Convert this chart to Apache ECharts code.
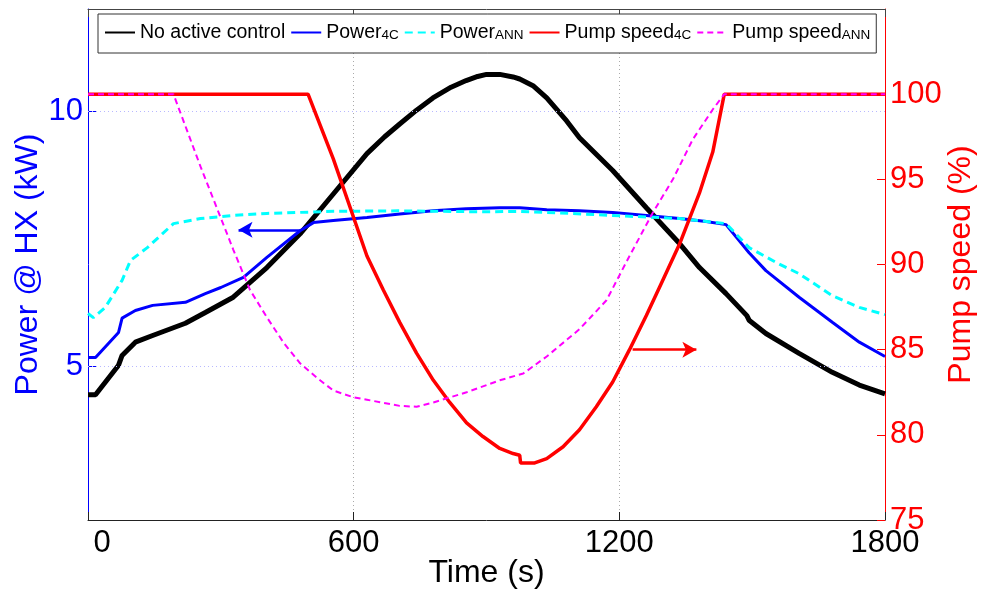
<!DOCTYPE html>
<html>
<head>
<meta charset="utf-8">
<script src="https://cdn.jsdelivr.net/npm/echarts@6/dist/echarts.min.js"></script>
<style>
  html, body { margin: 0; padding: 0; background: #fff; }
  #chart { width: 982px; height: 592px; }
</style>
</head>
<body>
<div id="chart"></div>
<script>
// time (s) and power (kW)
const timeNoCtrl = [0, 17, 69, 77, 107, 146, 220, 265, 328, 404, 479, 554, 630, 670, 704, 742, 779, 820, 854, 880, 900, 930, 960, 975, 978, 1005, 1036, 1081, 1110, 1185, 1261, 1336, 1381, 1441, 1488, 1493, 1531, 1606, 1681, 1742, 1800];
const powerNoCtrl = [4.45, 4.45, 5.03, 5.22, 5.48, 5.61, 5.85, 6.06, 6.36, 6.94, 7.6, 8.38, 9.17, 9.5, 9.75, 10.02, 10.26, 10.47, 10.6, 10.68, 10.72, 10.72, 10.67, 10.63, 10.66, 10.5, 10.26, 9.81, 9.48, 8.84, 8.11, 7.41, 6.94, 6.43, 6.0, 5.91, 5.65, 5.26, 4.89, 4.64, 4.47];

const time4C = [0, 17, 69, 77, 107, 146, 220, 265, 300, 351, 404, 479, 509, 554, 630, 704, 779, 854, 930, 975, 1036, 1110, 1185, 1261, 1336, 1396, 1441, 1493, 1531, 1606, 1681, 1742, 1800];
const power4C = [5.18, 5.18, 5.67, 5.95, 6.1, 6.2, 6.26, 6.43, 6.55, 6.75, 7.14, 7.66, 7.82, 7.86, 7.92, 7.99, 8.05, 8.09, 8.11, 8.11, 8.07, 8.05, 8.02, 7.96, 7.9, 7.84, 7.78, 7.23, 6.88, 6.36, 5.87, 5.48, 5.2];

const timeAnn = [0, 12, 39, 77, 96, 134, 193, 254, 328, 404, 479, 554, 700, 900, 975, 1036, 1185, 1336, 1441, 1493, 1554, 1606, 1681, 1742, 1800];
const powerAnn = [6.04, 5.96, 6.16, 6.69, 7.08, 7.33, 7.8, 7.9, 7.96, 8.0, 8.02, 8.04, 8.05, 8.03, 8.04, 8.02, 7.96, 7.9, 7.8, 7.33, 7.04, 6.82, 6.39, 6.16, 6.02];

// pump speed (%)
const timePump4C = [0, 497, 554, 630, 667, 704, 742, 780, 817, 855, 892, 930, 960, 975, 977, 1009, 1036, 1073, 1110, 1148, 1185, 1223, 1261, 1295, 1336, 1381, 1411, 1437, 1800];
const pump4C = [100, 100, 96.2, 90.5, 88.5, 86.6, 84.8, 83.2, 81.9, 80.7, 79.9, 79.2, 78.9, 78.8, 78.35, 78.35, 78.6, 79.3, 80.3, 81.65, 83.1, 85.0, 87.0, 88.9, 91.2, 94.2, 96.6, 100, 100];

const timePumpAnn = [0, 193, 254, 328, 366, 404, 442, 479, 517, 554, 600, 630, 704, 742, 780, 855, 930, 983, 1036, 1110, 1171, 1223, 1276, 1321, 1366, 1411, 1437, 1800];
const pumpAnn = [100, 100, 95.76, 90.88, 88.5, 86.9, 85.4, 84.2, 83.35, 82.6, 82.2, 82.06, 81.7, 81.65, 81.9, 82.5, 83.2, 83.6, 84.6, 86.2, 87.9, 90.5, 93.06, 95.0, 97.35, 99.1, 100, 100];

const xTicks = [0, 600, 1200, 1800];
const powerTicks = [5, 10];

const zip = (ts, vs) => ts.map((t, i) => [t, vs[i]]);

const chart = echarts.init(document.getElementById('chart'));
const FONT = '"Liberation Sans", Arial, sans-serif';

chart.setOption({
  animation: false,
  textStyle: { fontFamily: FONT },
  grid: { left: 88, right: 97, top: 9, bottom: 72, containLabel: false, outerBoundsMode: 'none' },
  legend: {
    left: 98,
    top: 14,
    padding: [1, 6, 10, 6],
    itemGap: 5,
    itemWidth: 30,
    itemHeight: 14,
    itemStyle: { opacity: 0 },
    backgroundColor: '#fff',
    borderColor: '#333',
    borderWidth: 1,
    borderRadius: 0,
    formatter: name => {
      const m = name.split('_');
      return m.length > 1 ? '{p|' + m[0] + '}{s|' + m[1] + '}' : name;
    },
    textStyle: {
      fontSize: 19.5,
      color: '#000',
      rich: {
        p: { fontSize: 19.5, lineHeight: 19, verticalAlign: 'top', color: '#000' },
        s: { fontSize: 13.5, lineHeight: 13, verticalAlign: 'bottom', padding: [13, 0, 0, 0], color: '#000' }
      }
    }
  },
  xAxis: [
    {
      type: 'value',
      min: 0,
      max: 1800,
      interval: 600,
      name: 'Time (s)',
      nameLocation: 'middle',
      nameGap: 37,
      nameMoveOverlap: false,
      nameTextStyle: { fontSize: 32, color: '#000' },
      axisLine: { onZero: false, lineStyle: { color: '#222', width: 1 } },
      axisTick: { inside: true, length: 8, lineStyle: { color: '#222' } },
      axisLabel: {
        fontSize: 31,
        color: '#000',
        margin: 8,
        formatter: v => (v === xTicks[0] ? '{z|' + v + '}' : String(v)),
        rich: { z: { fontSize: 31, color: '#000', padding: [0, 0, 0, 28] } }
      },
      splitLine: { show: true, lineStyle: { type: [1, 3], color: '#aaa' } }
    },
    {
      type: 'value',
      position: 'top',
      min: 0,
      max: 1800,
      interval: 600,
      axisLine: { onZero: false, lineStyle: { color: '#444' } },
      axisTick: { inside: true, length: 8, lineStyle: { color: '#444' } },
      axisLabel: { show: false },
      splitLine: { show: false }
    }
  ],
  yAxis: [
    {
      type: 'value',
      position: 'left',
      min: 2,
      max: 12,
      interval: 1,
      name: 'Power @ HX (kW)',
      nameLocation: 'middle',
      nameRotate: 90,
      nameGap: 44,
      nameMoveOverlap: false,
      nameTextStyle: { fontSize: 32, color: '#0000ff' },
      axisLine: { show: true, onZero: false, lineStyle: { color: '#0000ff', width: 1 } },
      axisTick: { inside: true, length: 8, customValues: powerTicks, lineStyle: { color: '#0000ff' } },
      axisLabel: { customValues: powerTicks, fontSize: 31, color: '#0000ff', margin: 5 },
      splitLine: { show: false }
    },
    {
      type: 'value',
      position: 'right',
      min: 75,
      max: 105,
      interval: 5,
      name: 'Pump speed (%)',
      nameLocation: 'middle',
      nameRotate: 90,
      nameGap: 60,
      nameMoveOverlap: false,
      nameTextStyle: { fontSize: 32, color: '#ff0000' },
      axisLine: { show: true, onZero: false, lineStyle: { color: '#ff0000', width: 1 } },
      axisTick: { inside: true, length: 8, lineStyle: { color: '#ff0000' } },
      axisLabel: { fontSize: 31, color: '#ff0000', margin: 5, showMaxLabel: false },
      splitLine: { show: false }
    }
  ],
  series: [
    {
      name: 'No active control',
      type: 'line',
      symbol: 'none',
      yAxisIndex: 0,
      lineStyle: { color: '#000', width: 5 },
      itemStyle: { color: '#000' },
      data: zip(timeNoCtrl, powerNoCtrl),
      // light blue dotted grid on the power axis
      markLine: {
        silent: true,
        symbol: ['none', 'none'],
        label: { show: false },
        lineStyle: { type: [1, 3], color: '#b8b8ff', width: 1 },
        data: powerTicks.map(v => ({ yAxis: v }))
      },
      z: 2
    },
    {
      name: 'Power_4C',
      type: 'line',
      symbol: 'none',
      yAxisIndex: 0,
      lineStyle: { color: '#0000ff', width: 3 },
      itemStyle: { color: '#0000ff' },
      data: zip(time4C, power4C),
      markLine: {
        silent: true,
        symbol: ['none', 'arrow'],
        symbolSize: [12, 14],
        label: { show: false },
        lineStyle: { type: 'solid', color: '#0000ff', width: 2.5 },
        data: [[{ coord: [479, 7.68] }, { coord: [340, 7.68] }]]
      },
      z: 3
    },
    {
      name: 'Power_ANN',
      type: 'line',
      symbol: 'none',
      yAxisIndex: 0,
      lineStyle: { color: '#00ffff', width: 3, type: [8, 5] },
      itemStyle: { color: '#00ffff' },
      data: zip(timeAnn, powerAnn),
      z: 4
    },
    {
      name: 'Pump speed_4C',
      type: 'line',
      symbol: 'none',
      yAxisIndex: 1,
      lineStyle: { color: '#ff0000', width: 3.5 },
      itemStyle: { color: '#ff0000' },
      data: zip(timePump4C, pump4C),
      markLine: {
        silent: true,
        symbol: ['none', 'arrow'],
        symbolSize: [12, 14],
        label: { show: false },
        lineStyle: { type: 'solid', color: '#ff0000', width: 2.5 },
        data: [[{ coord: [1230, 85] }, { coord: [1374, 85] }]]
      },
      z: 5
    },
    {
      name: 'Pump speed_ANN',
      type: 'line',
      symbol: 'none',
      yAxisIndex: 1,
      lineStyle: { color: '#ff00ff', width: 2, type: [6, 4] },
      itemStyle: { color: '#ff00ff' },
      data: zip(timePumpAnn, pumpAnn),
      z: 6
    }
  ]
});
</script>
</body>
</html>
